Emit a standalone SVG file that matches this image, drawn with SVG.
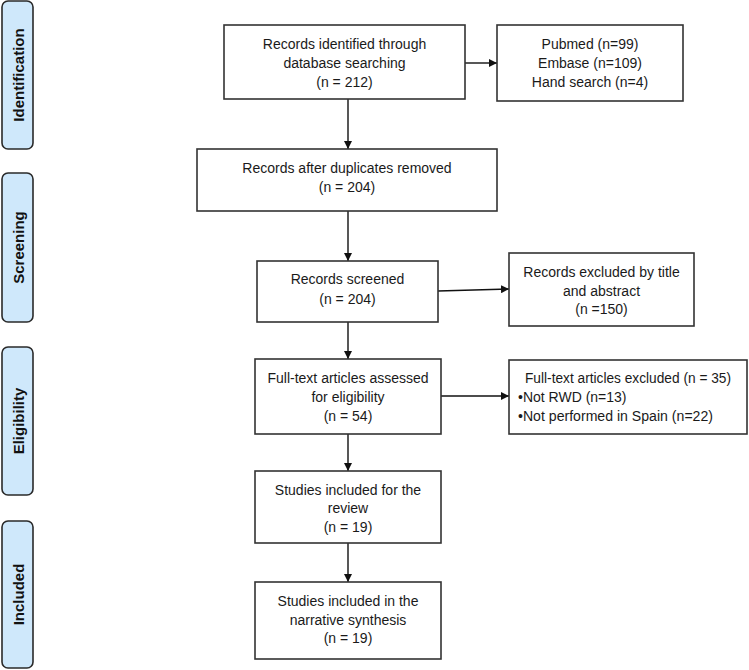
<svg xmlns="http://www.w3.org/2000/svg" width="749" height="670" viewBox="0 0 749 670">
<defs>
<style>
.box{fill:#fff;stroke:#333;stroke-width:1.6}
.side{fill:#cfe8fb;stroke:#2a2a2a;stroke-width:1.6}
.t{font-family:"Liberation Sans",Arial,sans-serif;font-size:14px;fill:#1a1a1a;text-anchor:middle;dominant-baseline:central}
.tl{text-anchor:start}
.s{font-family:"Liberation Sans",Arial,sans-serif;font-size:15px;font-weight:bold;fill:#111;text-anchor:middle;dominant-baseline:central}
.c{stroke:#111;stroke-width:1.4;fill:none;marker-end:url(#ah)}
</style>
<marker id="ah" viewBox="0 0 10 10" refX="10" refY="5" markerWidth="8" markerHeight="8" markerUnits="userSpaceOnUse" orient="auto">
<path d="M0,0 L10,5 L0,10 z" fill="#111"/>
</marker>
</defs>
<rect width="749" height="670" fill="#fff"/>
<g id="phase-identification">
<rect class="side" x="2" y="1" width="31" height="148" rx="6"/>
<text class="s" transform="translate(18,75) rotate(-90)">Identification</text>
</g>
<g id="phase-screening">
<rect class="side" x="2" y="173" width="31" height="149" rx="6"/>
<text class="s" transform="translate(18,247.5) rotate(-90)">Screening</text>
</g>
<g id="phase-eligibility">
<rect class="side" x="2" y="347" width="31" height="148" rx="6"/>
<text class="s" transform="translate(18,421) rotate(-90)">Eligibility</text>
</g>
<g id="phase-included">
<rect class="side" x="2" y="521" width="31" height="147" rx="6"/>
<text class="s" transform="translate(18,594.5) rotate(-90)">Included</text>
</g>
<g id="connectors">
<line class="c" x1="348" y1="99" x2="348" y2="149"/>
<line class="c" x1="465" y1="63" x2="497" y2="63"/>
<line class="c" x1="348" y1="211" x2="348" y2="261"/>
<line class="c" x1="438" y1="291" x2="509" y2="289"/>
<line class="c" x1="348" y1="322" x2="348" y2="359"/>
<line class="c" x1="441" y1="396" x2="509" y2="396"/>
<line class="c" x1="348" y1="434" x2="348" y2="471"/>
<line class="c" x1="348" y1="543" x2="348" y2="582"/>
</g>
<g id="identified">
<rect class="box" x="224" y="25" width="241" height="74"/>
<text class="t" x="344.5" y="44">Records identified through</text>
<text class="t" x="344.5" y="63">database searching</text>
<text class="t" x="344.5" y="82">(n = 212)</text>
</g>
<g id="sources">
<rect class="box" x="497" y="25" width="186" height="76"/>
<text class="t" x="590" y="44">Pubmed (n=99)</text>
<text class="t" x="590" y="63">Embase (n=109)</text>
<text class="t" x="590" y="82">Hand search (n=4)</text>
</g>
<g id="dedup">
<rect class="box" x="197" y="149" width="300" height="62"/>
<text class="t" x="347" y="168">Records after duplicates removed</text>
<text class="t" x="347" y="187">(n = 204)</text>
</g>
<g id="screened">
<rect class="box" x="257" y="261" width="181" height="61"/>
<text class="t" x="347.5" y="279">Records screened</text>
<text class="t" x="347.5" y="299">(n = 204)</text>
</g>
<g id="excluded-title">
<rect class="box" x="509" y="253" width="185" height="73"/>
<text class="t" x="601.5" y="272">Records excluded by title</text>
<text class="t" x="601.5" y="291">and abstract</text>
<text class="t" x="601.5" y="309">(n =150)</text>
</g>
<g id="fulltext">
<rect class="box" x="255" y="359" width="186" height="75"/>
<text class="t" x="348" y="378">Full-text articles assessed</text>
<text class="t" x="348" y="397">for eligibility</text>
<text class="t" x="348" y="416">(n = 54)</text>
</g>
<g id="excluded-fulltext">
<rect class="box" x="509" y="360" width="238" height="74"/>
<text class="t tl" x="525" y="378" textLength="206" lengthAdjust="spacingAndGlyphs">Full-text articles excluded (n = 35)</text>
<text class="t tl" x="518" y="397">•Not RWD (n=13)</text>
<text class="t tl" x="518" y="416" textLength="195" lengthAdjust="spacingAndGlyphs">•Not performed in Spain (n=22)</text>
</g>
<g id="review">
<rect class="box" x="255" y="471" width="186" height="72"/>
<text class="t" x="348" y="490">Studies included for the</text>
<text class="t" x="348" y="508">review</text>
<text class="t" x="348" y="527">(n = 19)</text>
</g>
<g id="synthesis">
<rect class="box" x="255" y="582" width="186" height="77"/>
<text class="t" x="348" y="601">Studies included in the</text>
<text class="t" x="348" y="620">narrative synthesis</text>
<text class="t" x="348" y="638">(n = 19)</text>
</g>
</svg>
